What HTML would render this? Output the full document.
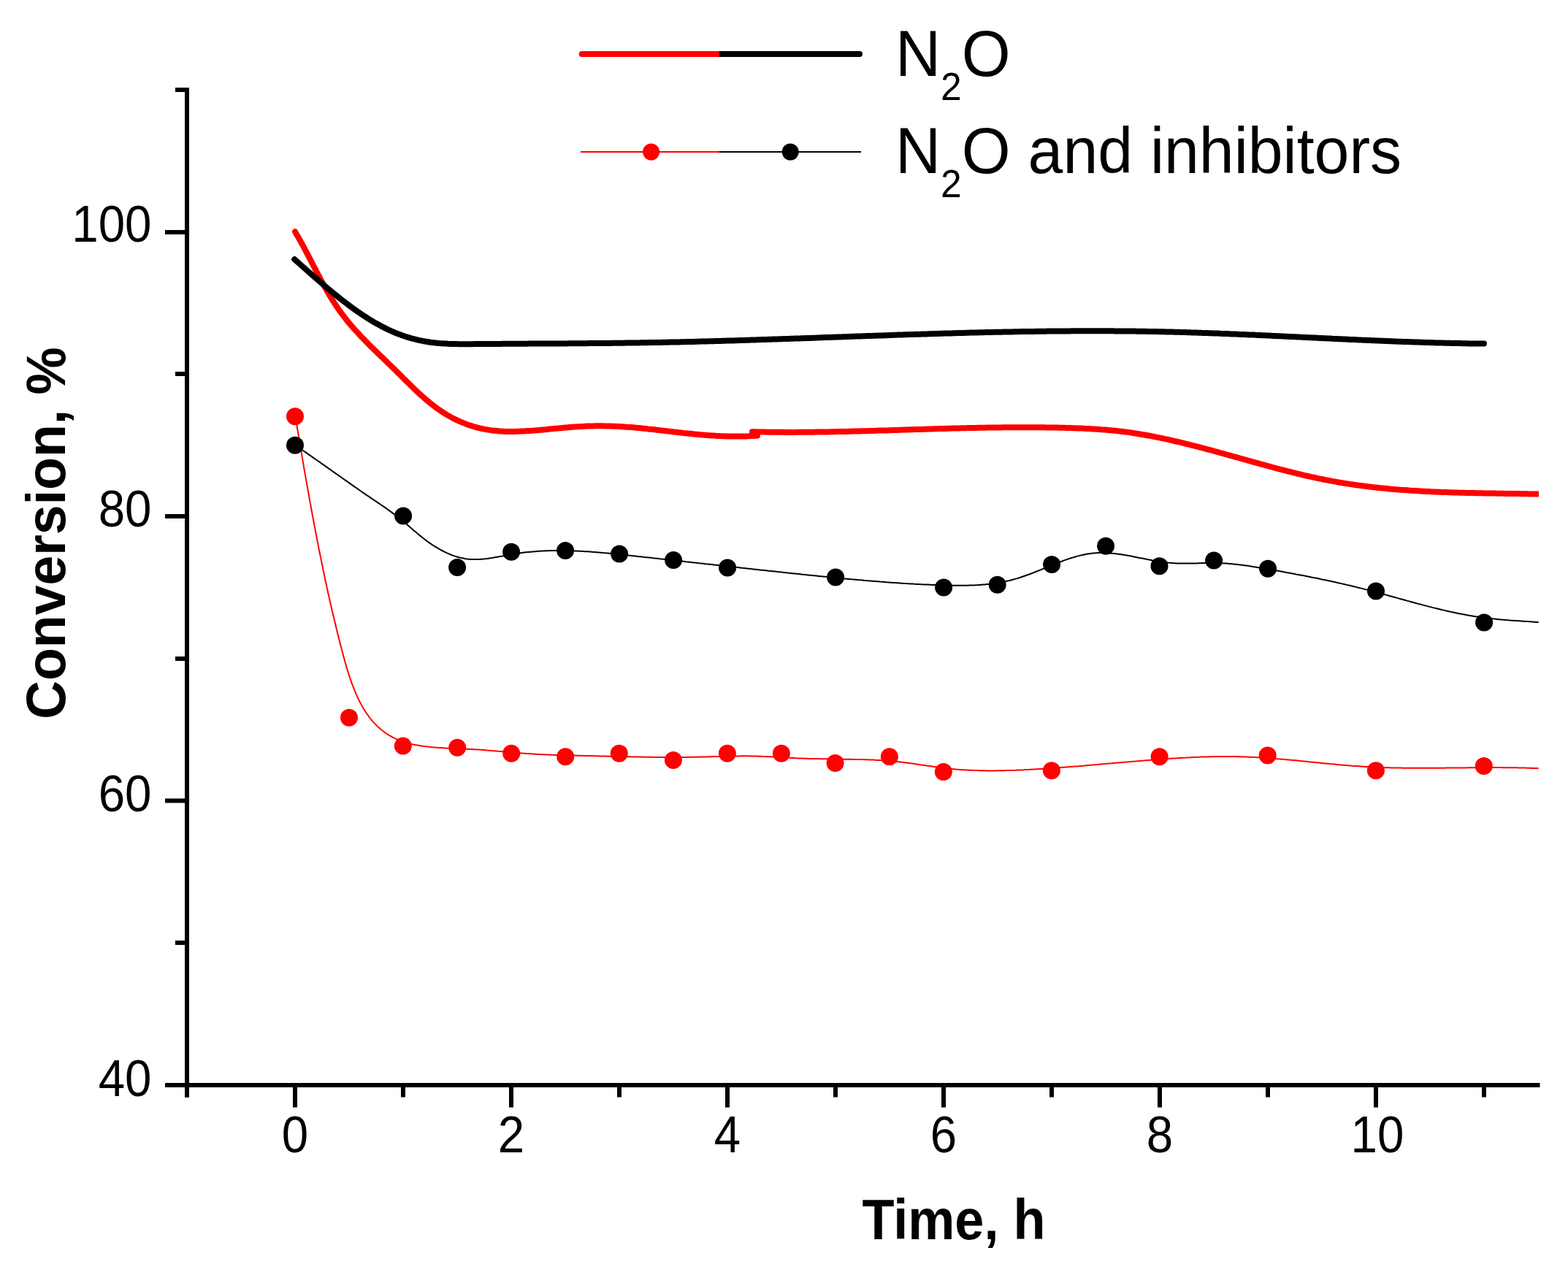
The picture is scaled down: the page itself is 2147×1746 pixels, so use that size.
<!DOCTYPE html>
<html><head><meta charset="utf-8"><title>Conversion vs Time</title>
<style>
html,body{margin:0;padding:0;background:#fff;}
body{width:2147px;height:1746px;overflow:hidden;}
svg{display:block;}
text{font-family:"Liberation Sans",Arial,sans-serif;fill:#000;}
</style></head><body>
<svg width="2147" height="1746" viewBox="0 0 2147 1746">
<defs><clipPath id="clipR"><rect x="0" y="0" width="2107" height="1746"/></clipPath></defs>
<rect width="2147" height="1746" fill="#fff"/>
<!-- axes -->
<g stroke="#000" stroke-width="6" fill="none" stroke-linecap="butt">
<path d="M256 120V1502.8"/>
<path d="M226 1486H2108.5"/>
<path d="M226 1486H256M226 1096.5H256M226 707H256M226 318H256M240 1291H256M240 902H256M240 512H256M240 123H256"/>
<path d="M404 1486V1516.6M700 1486V1516.6M996 1486V1516.6M1292 1486V1516.6M1588 1486V1516.6M1884 1486V1516.6M256 1486V1502.6M552 1486V1502.6M848 1486V1502.6M1144 1486V1502.6M1440 1486V1502.6M1736 1486V1502.6M2032 1486V1502.6"/>
</g>
<!-- y labels -->
<g font-size="65.5" text-anchor="end">
<text transform="translate(207.5 331) scale(1 1.065)">100</text>
<text transform="translate(207.5 721) scale(1 1.065)">80</text>
<text transform="translate(207.5 1111) scale(1 1.065)">60</text>
<text transform="translate(207.5 1500.5) scale(1 1.065)">40</text>
</g>
<!-- x labels -->
<g font-size="65.5" text-anchor="middle">
<text transform="translate(404 1577.5) scale(1 1.065)">0</text>
<text transform="translate(700 1577.5) scale(1 1.065)">2</text>
<text transform="translate(996 1577.5) scale(1 1.065)">4</text>
<text transform="translate(1292 1577.5) scale(1 1.065)">6</text>
<text transform="translate(1588 1577.5) scale(1 1.065)">8</text>
<text transform="translate(1886 1577.5) scale(1 1.065)">10</text>
</g>
<!-- axis titles -->
<text transform="translate(1180.5 1697) scale(1 1.068)" font-size="72.1" font-weight="bold">Time, h</text>
<text transform="translate(89 985) rotate(-90) scale(1 1.04)" font-size="73.4" font-weight="bold">Conversion, %</text>
<!-- legend -->
<path d="M796.7 74H985" stroke="#f00" stroke-width="8" stroke-linecap="round"/>
<path d="M985 74H1177" stroke="#000" stroke-width="8" stroke-linecap="butt"/>
<circle cx="1177" cy="74" r="4" fill="#000"/>
<path d="M795 208H985" stroke="#f00" stroke-width="2"/>
<path d="M985 208H1179" stroke="#000" stroke-width="2"/>
<circle cx="891.6" cy="208" r="11.5" fill="#f00"/>
<circle cx="1082.2" cy="208" r="11.5" fill="#000"/>
<text transform="translate(1226 104) scale(1 1.045)" font-size="86">N<tspan font-size="51.6" dy="31.4">2</tspan><tspan dy="-31.4">O</tspan></text>
<text transform="translate(1226 237.2) scale(1 1.045)" font-size="86">N<tspan font-size="51.6" dy="31.4">2</tspan><tspan dy="-31.4">O and inhibitors</tspan></text>
<!-- curves -->
<g id="curves" fill="none" stroke-linejoin="round">
<path d="M404.3 570.0 L404.8 573.0 L405.3 575.9 L405.8 578.9 L406.3 581.9 L406.8 584.8 L407.3 587.8 L407.8 590.8 L408.3 593.7 L408.8 596.7 L409.3 599.6 L409.8 602.6 L410.3 605.6 L410.8 608.5 L411.3 611.5 L411.8 614.5 L412.3 617.4 L412.8 620.4 L413.3 623.3 L413.8 626.3 L414.3 629.3 L414.8 632.2 L415.3 635.2 L415.8 638.1 L416.3 641.1 L416.8 644.1 L417.4 647.0 L417.9 650.0 L418.4 652.9 L418.9 655.9 L419.4 658.9 L420.0 661.8 L420.5 664.8 L421.0 667.7 L421.5 670.7 L422.1 673.6 L422.6 676.6 L423.1 679.6 L423.6 682.5 L424.2 685.5 L424.7 688.4 L425.3 691.4 L425.8 694.3 L426.3 697.3 L426.9 700.2 L427.4 703.2 L428.0 706.2 L428.5 709.1 L429.1 712.1 L429.6 715.0 L430.2 718.0 L430.7 720.9 L431.3 723.9 L431.9 726.8 L432.4 729.8 L433.0 732.7 L433.6 735.7 L434.1 738.6 L434.7 741.6 L435.3 744.5 L435.9 747.5 L436.4 750.4 L437.0 753.4 L437.6 756.3 L438.2 759.3 L438.8 762.2 L439.4 765.1 L440.0 768.1 L440.6 771.0 L441.2 774.0 L441.8 776.9 L442.4 779.9 L443.0 782.8 L443.6 785.7 L444.2 788.7 L444.9 791.6 L445.5 794.6 L446.1 797.5 L446.8 800.4 L447.4 803.4 L448.0 806.3 L448.7 809.2 L449.3 812.2 L450.0 815.1 L450.6 818.0 L451.3 821.0 L451.9 823.9 L452.6 826.8 L453.3 829.8 L453.9 832.7 L454.6 835.6 L455.3 838.5 L456.0 841.5 L456.7 844.4 L457.4 847.3 L458.1 850.2 L458.8 853.1 L459.5 856.1 L460.2 859.0 L460.9 861.9 L461.6 864.8 L462.3 867.7 L463.1 870.6 L463.8 873.6 L464.5 876.5 L465.3 879.4 L466.0 882.3 L466.8 885.2 L467.5 888.1 L468.3 891.0 L469.1 893.9 L469.8 896.8 L470.6 899.7 L471.4 902.6 L472.2 905.5 L473.0 908.4 L473.9 911.3 L474.7 914.2 L475.6 917.1 L476.5 919.9 L477.4 922.8 L478.3 925.6 L479.2 928.5 L480.2 931.3 L481.2 934.2 L482.2 937.0 L483.3 939.8 L484.4 942.6 L485.5 945.4 L486.6 948.2 L487.8 950.9 L489.0 953.7 L490.3 956.4 L491.6 959.1 L493.0 961.8 L494.4 964.4 L495.8 967.1 L497.3 969.7 L498.9 972.2 L500.5 974.8 L502.2 977.3 L503.9 979.7 L505.7 982.1 L507.6 984.5 L509.5 986.8 L511.5 989.1 L513.5 991.3 L515.6 993.4 L517.8 995.5 L520.0 997.5 L522.3 999.4 L524.7 1001.3 L527.1 1003.1 L529.5 1004.8 L532.1 1006.4 L534.7 1008.0 L537.3 1009.4 L540.0 1010.8 L542.7 1012.1 L545.4 1013.3 L548.2 1014.4 L551.0 1015.4 L553.9 1016.3 L556.8 1017.2 L559.7 1018.0 L562.6 1018.7 L565.5 1019.4 L568.5 1020.0 L571.4 1020.5 L574.4 1021.0 L577.3 1021.5 L580.3 1021.9 L583.3 1022.3 L586.3 1022.6 L589.3 1022.9 L592.3 1023.2 L595.3 1023.5 L598.2 1023.7 L601.2 1023.9 L604.2 1024.1 L607.2 1024.3 L610.2 1024.5 L613.2 1024.7 L616.2 1024.8 L619.2 1024.9 L622.2 1025.1 L625.2 1025.2 L628.2 1025.3 L631.2 1025.5 L634.2 1025.6 L637.2 1025.7 L640.2 1025.8 L643.2 1026.0 L646.2 1026.1 L649.2 1026.3 L652.2 1026.5 L655.2 1026.6 L658.2 1026.8 L661.2 1027.0 L664.2 1027.2 L667.2 1027.5 L670.2 1027.7 L673.2 1027.9 L676.2 1028.2 L679.2 1028.4 L682.2 1028.7 L685.2 1028.9 L688.2 1029.2 L691.2 1029.5 L694.2 1029.7 L697.2 1030.0 L700.2 1030.2 L703.2 1030.5 L706.1 1030.8 L709.1 1031.0 L712.1 1031.2 L715.1 1031.5 L718.1 1031.7 L721.1 1031.9 L724.1 1032.1 L727.1 1032.3 L730.1 1032.5 L733.1 1032.7 L736.1 1032.9 L739.1 1033.0 L742.1 1033.2 L745.1 1033.3 L748.1 1033.4 L751.1 1033.6 L754.1 1033.7 L757.1 1033.8 L760.1 1033.9 L763.1 1034.0 L766.1 1034.1 L769.1 1034.2 L772.1 1034.2 L775.1 1034.3 L778.1 1034.4 L781.1 1034.5 L784.1 1034.5 L787.1 1034.6 L790.1 1034.7 L793.2 1034.7 L796.2 1034.8 L799.2 1034.9 L802.2 1034.9 L805.2 1035.0 L808.2 1035.1 L811.2 1035.1 L814.2 1035.2 L817.2 1035.3 L820.2 1035.4 L823.2 1035.4 L826.2 1035.5 L829.2 1035.6 L832.2 1035.7 L835.2 1035.7 L838.2 1035.8 L841.2 1035.9 L844.2 1035.9 L847.2 1036.0 L850.2 1036.1 L853.2 1036.1 L856.2 1036.2 L859.2 1036.3 L862.2 1036.3 L865.2 1036.4 L868.2 1036.5 L871.2 1036.5 L874.2 1036.6 L877.2 1036.6 L880.2 1036.7 L883.2 1036.7 L886.3 1036.8 L889.3 1036.8 L892.3 1036.8 L895.3 1036.9 L898.3 1036.9 L901.3 1036.9 L904.3 1036.9 L907.3 1037.0 L910.3 1037.0 L913.3 1037.0 L916.3 1037.0 L919.3 1037.0 L922.3 1037.0 L925.3 1037.0 L928.3 1037.0 L931.3 1037.0 L934.3 1036.9 L937.3 1036.9 L940.3 1036.9 L943.3 1036.9 L946.3 1036.8 L949.3 1036.8 L952.3 1036.7 L955.3 1036.7 L958.3 1036.6 L961.3 1036.5 L964.4 1036.5 L967.4 1036.4 L970.4 1036.3 L973.4 1036.2 L976.4 1036.1 L979.4 1036.0 L982.4 1036.0 L985.4 1035.9 L988.4 1035.8 L991.4 1035.7 L994.4 1035.7 L997.4 1035.6 L1000.4 1035.5 L1003.4 1035.5 L1006.4 1035.4 L1009.4 1035.4 L1012.4 1035.4 L1015.4 1035.3 L1018.4 1035.3 L1021.4 1035.3 L1024.4 1035.3 L1027.4 1035.4 L1030.4 1035.4 L1033.4 1035.5 L1036.4 1035.6 L1039.4 1035.7 L1042.4 1035.8 L1045.4 1035.9 L1048.4 1036.0 L1051.4 1036.2 L1054.4 1036.3 L1057.4 1036.5 L1060.4 1036.7 L1063.4 1036.8 L1066.4 1037.0 L1069.4 1037.2 L1072.4 1037.3 L1075.4 1037.5 L1078.4 1037.7 L1081.4 1037.8 L1084.4 1038.0 L1087.4 1038.1 L1090.4 1038.3 L1093.4 1038.4 L1096.4 1038.5 L1099.4 1038.6 L1102.4 1038.7 L1105.4 1038.8 L1108.4 1038.9 L1111.4 1039.0 L1114.5 1039.0 L1117.5 1039.1 L1120.5 1039.1 L1123.5 1039.2 L1126.5 1039.3 L1129.5 1039.3 L1132.5 1039.3 L1135.5 1039.4 L1138.5 1039.4 L1141.5 1039.5 L1144.5 1039.5 L1147.5 1039.6 L1150.5 1039.6 L1153.5 1039.6 L1156.5 1039.7 L1159.5 1039.7 L1162.5 1039.8 L1165.5 1039.8 L1168.5 1039.9 L1171.5 1039.9 L1174.5 1040.0 L1177.5 1040.1 L1180.5 1040.1 L1183.5 1040.2 L1186.5 1040.3 L1189.5 1040.4 L1192.5 1040.5 L1195.5 1040.6 L1198.5 1040.8 L1201.5 1040.9 L1204.5 1041.1 L1207.5 1041.2 L1210.5 1041.4 L1213.5 1041.6 L1216.5 1041.9 L1219.5 1042.1 L1222.5 1042.4 L1225.5 1042.7 L1228.5 1043.0 L1231.5 1043.3 L1234.5 1043.7 L1237.4 1044.0 L1240.4 1044.4 L1243.4 1044.8 L1246.4 1045.2 L1249.4 1045.6 L1252.3 1046.1 L1255.3 1046.5 L1258.3 1046.9 L1261.2 1047.4 L1264.2 1047.8 L1267.2 1048.2 L1270.2 1048.7 L1273.1 1049.1 L1276.1 1049.5 L1279.1 1050.0 L1282.1 1050.4 L1285.0 1050.8 L1288.0 1051.2 L1291.0 1051.5 L1294.0 1051.9 L1297.0 1052.2 L1299.9 1052.6 L1302.9 1052.9 L1305.9 1053.2 L1308.9 1053.5 L1311.9 1053.7 L1314.9 1053.9 L1317.9 1054.2 L1320.9 1054.3 L1323.9 1054.5 L1326.9 1054.7 L1329.9 1054.8 L1332.9 1054.9 L1335.9 1055.0 L1338.9 1055.1 L1341.9 1055.2 L1344.9 1055.3 L1347.9 1055.3 L1350.9 1055.4 L1353.9 1055.4 L1356.9 1055.4 L1359.9 1055.4 L1362.9 1055.4 L1365.9 1055.3 L1368.9 1055.3 L1371.9 1055.3 L1374.9 1055.2 L1377.9 1055.1 L1381.0 1055.1 L1384.0 1055.0 L1387.0 1054.9 L1390.0 1054.8 L1393.0 1054.6 L1396.0 1054.5 L1399.0 1054.4 L1402.0 1054.3 L1405.0 1054.1 L1408.0 1054.0 L1411.0 1053.8 L1414.0 1053.6 L1417.0 1053.5 L1420.0 1053.3 L1423.0 1053.1 L1426.0 1052.9 L1429.0 1052.7 L1432.0 1052.6 L1435.0 1052.4 L1437.9 1052.1 L1440.9 1051.9 L1443.9 1051.7 L1446.9 1051.5 L1449.9 1051.3 L1452.9 1051.1 L1455.9 1050.8 L1458.9 1050.6 L1461.9 1050.4 L1464.9 1050.1 L1467.9 1049.9 L1470.9 1049.6 L1473.9 1049.4 L1476.9 1049.2 L1479.9 1048.9 L1482.9 1048.7 L1485.9 1048.4 L1488.9 1048.1 L1491.9 1047.9 L1494.8 1047.6 L1497.8 1047.4 L1500.8 1047.1 L1503.8 1046.9 L1506.8 1046.6 L1509.8 1046.3 L1512.8 1046.1 L1515.8 1045.8 L1518.8 1045.5 L1521.8 1045.3 L1524.8 1045.0 L1527.8 1044.8 L1530.8 1044.5 L1533.7 1044.2 L1536.7 1044.0 L1539.7 1043.7 L1542.7 1043.5 L1545.7 1043.2 L1548.7 1043.0 L1551.7 1042.7 L1554.7 1042.5 L1557.7 1042.2 L1560.7 1042.0 L1563.7 1041.7 L1566.7 1041.5 L1569.7 1041.2 L1572.7 1041.0 L1575.7 1040.8 L1578.7 1040.5 L1581.7 1040.3 L1584.6 1040.1 L1587.6 1039.9 L1590.6 1039.6 L1593.6 1039.4 L1596.6 1039.2 L1599.6 1039.0 L1602.6 1038.8 L1605.6 1038.6 L1608.6 1038.4 L1611.6 1038.3 L1614.6 1038.1 L1617.6 1037.9 L1620.6 1037.7 L1623.6 1037.6 L1626.6 1037.4 L1629.6 1037.3 L1632.6 1037.1 L1635.6 1037.0 L1638.6 1036.9 L1641.6 1036.8 L1644.6 1036.6 L1647.6 1036.5 L1650.6 1036.4 L1653.6 1036.4 L1656.6 1036.3 L1659.6 1036.2 L1662.6 1036.2 L1665.6 1036.1 L1668.6 1036.1 L1671.7 1036.0 L1674.7 1036.0 L1677.7 1036.0 L1680.7 1036.0 L1683.7 1036.0 L1686.7 1036.1 L1689.7 1036.1 L1692.7 1036.1 L1695.7 1036.2 L1698.7 1036.3 L1701.7 1036.4 L1704.7 1036.5 L1707.7 1036.6 L1710.7 1036.7 L1713.7 1036.8 L1716.7 1037.0 L1719.7 1037.1 L1722.7 1037.3 L1725.7 1037.5 L1728.7 1037.7 L1731.7 1037.9 L1734.7 1038.1 L1737.7 1038.3 L1740.7 1038.5 L1743.7 1038.7 L1746.7 1038.9 L1749.7 1039.2 L1752.7 1039.4 L1755.7 1039.7 L1758.6 1039.9 L1761.6 1040.2 L1764.6 1040.5 L1767.6 1040.8 L1770.6 1041.0 L1773.6 1041.3 L1776.6 1041.6 L1779.6 1041.9 L1782.6 1042.2 L1785.6 1042.5 L1788.5 1042.8 L1791.5 1043.1 L1794.5 1043.4 L1797.5 1043.7 L1800.5 1044.0 L1803.5 1044.3 L1806.5 1044.6 L1809.5 1044.9 L1812.5 1045.2 L1815.4 1045.5 L1818.4 1045.8 L1821.4 1046.1 L1824.4 1046.3 L1827.4 1046.6 L1830.4 1046.9 L1833.4 1047.2 L1836.4 1047.4 L1839.4 1047.7 L1842.4 1048.0 L1845.4 1048.2 L1848.4 1048.4 L1851.4 1048.7 L1854.3 1048.9 L1857.3 1049.1 L1860.3 1049.3 L1863.3 1049.5 L1866.3 1049.7 L1869.3 1049.9 L1872.3 1050.1 L1875.3 1050.3 L1878.3 1050.4 L1881.3 1050.6 L1884.3 1050.7 L1887.3 1050.8 L1890.3 1050.9 L1893.3 1051.1 L1896.3 1051.2 L1899.3 1051.2 L1902.3 1051.3 L1905.3 1051.4 L1908.4 1051.5 L1911.4 1051.5 L1914.4 1051.6 L1917.4 1051.6 L1920.4 1051.7 L1923.4 1051.7 L1926.4 1051.7 L1929.4 1051.8 L1932.4 1051.8 L1935.4 1051.8 L1938.4 1051.8 L1941.4 1051.8 L1944.4 1051.8 L1947.4 1051.8 L1950.4 1051.8 L1953.4 1051.8 L1956.4 1051.8 L1959.4 1051.8 L1962.4 1051.8 L1965.4 1051.8 L1968.4 1051.7 L1971.4 1051.7 L1974.4 1051.7 L1977.4 1051.7 L1980.4 1051.6 L1983.4 1051.6 L1986.5 1051.6 L1989.5 1051.5 L1992.5 1051.5 L1995.5 1051.5 L1998.5 1051.4 L2001.5 1051.4 L2004.5 1051.4 L2007.5 1051.4 L2010.5 1051.3 L2013.5 1051.3 L2016.5 1051.3 L2019.5 1051.2 L2022.5 1051.2 L2025.5 1051.2 L2028.5 1051.2 L2031.5 1051.2 L2034.5 1051.1 L2037.5 1051.1 L2040.5 1051.1 L2043.5 1051.1 L2046.5 1051.1 L2049.5 1051.1 L2052.5 1051.1 L2055.5 1051.1 L2058.5 1051.2 L2061.5 1051.2 L2064.6 1051.2 L2067.6 1051.2 L2070.6 1051.3 L2073.6 1051.3 L2076.6 1051.3 L2079.6 1051.4 L2082.6 1051.5 L2085.6 1051.5 L2088.6 1051.6 L2091.6 1051.7 L2094.6 1051.8 L2097.6 1051.9 L2100.6 1052.0 L2103.6 1052.1 L2106.6 1052.2" stroke="#f00" stroke-width="2"/>
<path d="M404.0 609.6 L406.5 611.2 L409.0 612.9 L411.5 614.6 L413.9 616.3 L416.4 618.0 L418.9 619.7 L421.3 621.4 L423.8 623.1 L426.3 624.8 L428.7 626.6 L431.2 628.3 L433.7 630.0 L436.1 631.7 L438.6 633.4 L441.0 635.2 L443.5 636.9 L445.9 638.6 L448.4 640.4 L450.8 642.1 L453.3 643.8 L455.7 645.6 L458.2 647.3 L460.6 649.0 L463.1 650.8 L465.5 652.5 L468.0 654.2 L470.4 656.0 L472.9 657.7 L475.4 659.4 L477.8 661.1 L480.3 662.9 L482.7 664.6 L485.2 666.3 L487.6 668.0 L490.1 669.7 L492.6 671.5 L495.0 673.2 L497.5 674.9 L500.0 676.6 L502.5 678.3 L505.0 679.9 L507.4 681.6 L509.9 683.3 L512.4 685.0 L514.9 686.7 L517.4 688.3 L519.9 690.0 L522.3 691.7 L524.8 693.4 L527.3 695.1 L529.7 696.9 L532.2 698.6 L534.6 700.4 L537.0 702.1 L539.5 703.9 L541.8 705.7 L544.2 707.6 L546.6 709.4 L548.9 711.3 L551.3 713.2 L553.6 715.1 L555.9 717.1 L558.1 719.0 L560.4 721.0 L562.7 722.9 L564.9 724.9 L567.2 726.9 L569.5 728.8 L571.8 730.8 L574.1 732.7 L576.4 734.6 L578.7 736.5 L581.1 738.3 L583.5 740.1 L585.9 741.9 L588.4 743.6 L590.9 745.3 L593.4 747.0 L595.9 748.6 L598.5 750.2 L601.1 751.7 L603.7 753.1 L606.3 754.5 L609.0 755.9 L611.7 757.2 L614.5 758.4 L617.2 759.5 L620.0 760.6 L622.9 761.6 L625.7 762.5 L628.6 763.3 L631.5 764.0 L634.5 764.6 L637.4 765.2 L640.4 765.6 L643.4 765.9 L646.4 766.1 L649.4 766.1 L652.4 766.1 L655.4 766.0 L658.4 765.9 L661.4 765.6 L664.4 765.3 L667.3 764.9 L670.3 764.5 L673.3 764.1 L676.2 763.6 L679.2 763.0 L682.2 762.5 L685.1 761.9 L688.1 761.4 L691.0 760.8 L694.0 760.3 L696.9 759.7 L699.9 759.2 L702.8 758.7 L705.8 758.2 L708.8 757.8 L711.7 757.4 L714.7 757.0 L717.7 756.6 L720.7 756.3 L723.7 756.0 L726.6 755.7 L729.6 755.4 L732.6 755.2 L735.6 755.0 L738.6 754.8 L741.6 754.6 L744.6 754.4 L747.6 754.3 L750.6 754.2 L753.6 754.1 L756.6 754.1 L759.6 754.0 L762.6 754.0 L765.6 754.0 L768.6 754.0 L771.6 754.0 L774.6 754.1 L777.6 754.1 L780.6 754.2 L783.6 754.3 L786.6 754.4 L789.6 754.5 L792.6 754.7 L795.6 754.8 L798.6 755.0 L801.6 755.2 L804.6 755.3 L807.6 755.5 L810.6 755.8 L813.6 756.0 L816.6 756.2 L819.6 756.4 L822.6 756.7 L825.6 757.0 L828.5 757.2 L831.5 757.5 L834.5 757.8 L837.5 758.1 L840.5 758.4 L843.5 758.7 L846.5 759.0 L849.5 759.3 L852.4 759.6 L855.4 759.9 L858.4 760.2 L861.4 760.6 L864.4 760.9 L867.4 761.2 L870.3 761.5 L873.3 761.9 L876.3 762.2 L879.3 762.5 L882.3 762.9 L885.3 763.2 L888.2 763.5 L891.2 763.8 L894.2 764.2 L897.2 764.5 L900.2 764.8 L903.2 765.2 L906.1 765.5 L909.1 765.8 L912.1 766.2 L915.1 766.5 L918.1 766.8 L921.1 767.2 L924.0 767.5 L927.0 767.8 L930.0 768.2 L933.0 768.5 L936.0 768.8 L939.0 769.2 L941.9 769.5 L944.9 769.8 L947.9 770.2 L950.9 770.5 L953.9 770.8 L956.9 771.2 L959.8 771.5 L962.8 771.8 L965.8 772.2 L968.8 772.5 L971.8 772.8 L974.8 773.1 L977.7 773.5 L980.7 773.8 L983.7 774.1 L986.7 774.5 L989.7 774.8 L992.7 775.1 L995.6 775.5 L998.6 775.8 L1001.6 776.1 L1004.6 776.5 L1007.6 776.8 L1010.6 777.1 L1013.5 777.4 L1016.5 777.8 L1019.5 778.1 L1022.5 778.4 L1025.5 778.7 L1028.5 779.1 L1031.4 779.4 L1034.4 779.7 L1037.4 780.1 L1040.4 780.4 L1043.4 780.7 L1046.4 781.0 L1049.4 781.3 L1052.3 781.7 L1055.3 782.0 L1058.3 782.3 L1061.3 782.6 L1064.3 783.0 L1067.3 783.3 L1070.2 783.6 L1073.2 783.9 L1076.2 784.2 L1079.2 784.6 L1082.2 784.9 L1085.2 785.2 L1088.2 785.5 L1091.1 785.8 L1094.1 786.1 L1097.1 786.4 L1100.1 786.8 L1103.1 787.1 L1106.1 787.4 L1109.1 787.7 L1112.0 788.0 L1115.0 788.3 L1118.0 788.6 L1121.0 788.9 L1124.0 789.2 L1127.0 789.5 L1130.0 789.8 L1132.9 790.1 L1135.9 790.4 L1138.9 790.7 L1141.9 791.0 L1144.9 791.3 L1147.9 791.6 L1150.9 791.9 L1153.9 792.2 L1156.8 792.4 L1159.8 792.7 L1162.8 793.0 L1165.8 793.3 L1168.8 793.5 L1171.8 793.8 L1174.8 794.1 L1177.8 794.3 L1180.8 794.6 L1183.7 794.9 L1186.7 795.1 L1189.7 795.4 L1192.7 795.6 L1195.7 795.9 L1198.7 796.1 L1201.7 796.3 L1204.7 796.6 L1207.7 796.8 L1210.7 797.0 L1213.7 797.3 L1216.7 797.5 L1219.7 797.7 L1222.7 797.9 L1225.6 798.1 L1228.6 798.3 L1231.6 798.5 L1234.6 798.7 L1237.6 798.9 L1240.6 799.1 L1243.6 799.2 L1246.6 799.4 L1249.6 799.6 L1252.6 799.8 L1255.6 799.9 L1258.6 800.1 L1261.6 800.2 L1264.6 800.4 L1267.6 800.5 L1270.6 800.6 L1273.6 800.7 L1276.6 800.9 L1279.6 801.0 L1282.6 801.1 L1285.6 801.2 L1288.6 801.3 L1291.6 801.4 L1294.6 801.5 L1297.6 801.5 L1300.6 801.6 L1303.6 801.7 L1306.6 801.7 L1309.6 801.7 L1312.6 801.8 L1315.6 801.8 L1318.6 801.8 L1321.6 801.7 L1324.6 801.7 L1327.6 801.6 L1330.6 801.5 L1333.6 801.4 L1336.6 801.2 L1339.6 801.1 L1342.6 800.9 L1345.6 800.6 L1348.6 800.4 L1351.6 800.1 L1354.6 799.8 L1357.5 799.4 L1360.5 799.0 L1363.5 798.6 L1366.5 798.1 L1369.4 797.6 L1372.4 797.1 L1375.3 796.5 L1378.2 795.8 L1381.2 795.2 L1384.1 794.5 L1387.0 793.7 L1389.9 792.9 L1392.8 792.1 L1395.6 791.2 L1398.5 790.3 L1401.3 789.3 L1404.2 788.3 L1407.0 787.3 L1409.8 786.3 L1412.6 785.2 L1415.4 784.1 L1418.2 783.0 L1421.0 781.9 L1423.8 780.8 L1426.5 779.6 L1429.3 778.5 L1432.1 777.3 L1434.9 776.2 L1437.7 775.1 L1440.4 773.9 L1443.2 772.8 L1446.0 771.7 L1448.8 770.6 L1451.6 769.5 L1454.4 768.5 L1457.2 767.4 L1460.1 766.4 L1462.9 765.4 L1465.7 764.5 L1468.6 763.6 L1471.5 762.7 L1474.4 761.9 L1477.3 761.1 L1480.2 760.4 L1483.1 759.8 L1486.1 759.2 L1489.0 758.6 L1492.0 758.2 L1495.0 757.8 L1497.9 757.5 L1500.9 757.3 L1503.9 757.1 L1506.9 757.1 L1509.9 757.1 L1512.9 757.1 L1515.9 757.3 L1518.9 757.5 L1521.9 757.7 L1524.9 758.0 L1527.9 758.3 L1530.9 758.7 L1533.8 759.1 L1536.8 759.6 L1539.8 760.1 L1542.7 760.6 L1545.7 761.1 L1548.6 761.6 L1551.6 762.2 L1554.5 762.8 L1557.5 763.4 L1560.4 764.0 L1563.4 764.5 L1566.3 765.1 L1569.3 765.7 L1572.2 766.3 L1575.1 766.8 L1578.1 767.4 L1581.1 767.9 L1584.0 768.4 L1587.0 768.9 L1589.9 769.4 L1592.9 769.8 L1595.9 770.1 L1598.9 770.5 L1601.9 770.8 L1604.9 771.0 L1607.9 771.2 L1610.9 771.4 L1613.9 771.5 L1616.9 771.5 L1619.9 771.6 L1622.9 771.6 L1625.9 771.6 L1628.9 771.5 L1631.9 771.5 L1634.9 771.4 L1637.9 771.4 L1640.9 771.3 L1643.9 771.2 L1646.9 771.1 L1649.9 771.1 L1652.9 771.0 L1655.9 771.0 L1658.9 770.9 L1661.9 770.9 L1664.9 771.0 L1667.9 771.0 L1670.9 771.1 L1673.9 771.3 L1676.9 771.4 L1679.9 771.6 L1682.9 771.9 L1685.8 772.1 L1688.8 772.4 L1691.8 772.7 L1694.8 773.1 L1697.8 773.4 L1700.8 773.8 L1703.7 774.2 L1706.7 774.6 L1709.7 775.1 L1712.6 775.5 L1715.6 776.0 L1718.6 776.4 L1721.5 776.9 L1724.5 777.4 L1727.5 777.9 L1730.4 778.4 L1733.4 778.9 L1736.3 779.4 L1739.3 780.0 L1742.2 780.5 L1745.2 781.0 L1748.2 781.5 L1751.1 782.1 L1754.1 782.6 L1757.0 783.1 L1760.0 783.7 L1762.9 784.2 L1765.9 784.7 L1768.8 785.3 L1771.8 785.8 L1774.7 786.4 L1777.7 786.9 L1780.6 787.5 L1783.6 788.1 L1786.5 788.6 L1789.5 789.2 L1792.4 789.8 L1795.4 790.4 L1798.3 791.0 L1801.3 791.5 L1804.2 792.1 L1807.1 792.7 L1810.1 793.4 L1813.0 794.0 L1815.9 794.6 L1818.9 795.2 L1821.8 795.8 L1824.8 796.5 L1827.7 797.1 L1830.6 797.8 L1833.5 798.4 L1836.5 799.1 L1839.4 799.8 L1842.3 800.4 L1845.2 801.1 L1848.2 801.8 L1851.1 802.5 L1854.0 803.2 L1856.9 803.9 L1859.8 804.7 L1862.7 805.4 L1865.7 806.1 L1868.6 806.9 L1871.5 807.6 L1874.4 808.4 L1877.3 809.1 L1880.2 809.9 L1883.1 810.7 L1886.0 811.5 L1888.9 812.2 L1891.8 813.0 L1894.7 813.8 L1897.6 814.6 L1900.5 815.4 L1903.3 816.2 L1906.2 817.0 L1909.1 817.8 L1912.0 818.6 L1914.9 819.4 L1917.8 820.2 L1920.7 821.0 L1923.6 821.8 L1926.5 822.6 L1929.4 823.4 L1932.3 824.2 L1935.2 825.0 L1938.1 825.8 L1941.0 826.6 L1943.9 827.3 L1946.8 828.1 L1949.7 828.9 L1952.6 829.6 L1955.5 830.4 L1958.4 831.1 L1961.3 831.9 L1964.2 832.6 L1967.1 833.3 L1970.0 834.0 L1973.0 834.7 L1975.9 835.4 L1978.8 836.1 L1981.7 836.8 L1984.7 837.4 L1987.6 838.1 L1990.5 838.7 L1993.5 839.3 L1996.4 839.9 L1999.4 840.5 L2002.3 841.1 L2005.2 841.6 L2008.2 842.2 L2011.2 842.7 L2014.1 843.2 L2017.1 843.7 L2020.0 844.2 L2023.0 844.6 L2026.0 845.1 L2029.0 845.5 L2031.9 845.9 L2034.9 846.2 L2037.9 846.6 L2040.9 846.9 L2043.9 847.3 L2046.8 847.6 L2049.8 847.9 L2052.8 848.2 L2055.8 848.5 L2058.8 848.7 L2061.8 849.0 L2064.8 849.2 L2067.8 849.5 L2070.8 849.7 L2073.8 849.9 L2076.7 850.1 L2079.7 850.3 L2082.7 850.5 L2085.7 850.7 L2088.7 850.9 L2091.7 851.1 L2094.7 851.3 L2097.7 851.5 L2100.7 851.7 L2103.7 851.9 L2106.7 852.1" stroke="#000" stroke-width="2"/>
<path d="M404.0 317.3 L405.5 319.9 L407.0 322.5 L408.5 325.1 L410.0 327.7 L411.5 330.3 L412.9 333.0 L414.4 335.6 L415.8 338.2 L417.2 340.9 L418.6 343.5 L420.0 346.2 L421.4 348.9 L422.8 351.5 L424.2 354.2 L425.6 356.9 L427.0 359.5 L428.3 362.2 L429.7 364.9 L431.1 367.5 L432.5 370.2 L433.9 372.8 L435.3 375.5 L436.7 378.2 L438.1 380.8 L439.5 383.5 L440.9 386.1 L442.4 388.7 L443.8 391.4 L445.3 394.0 L446.8 396.6 L448.2 399.2 L449.8 401.8 L451.3 404.4 L452.8 407.0 L454.4 409.5 L456.0 412.1 L457.6 414.6 L459.2 417.1 L460.9 419.6 L462.6 422.1 L464.3 424.6 L466.1 427.0 L467.8 429.4 L469.7 431.8 L471.5 434.2 L473.3 436.6 L475.2 438.9 L477.1 441.3 L479.0 443.6 L481.0 445.9 L483.0 448.1 L484.9 450.4 L486.9 452.6 L489.0 454.8 L491.0 457.0 L493.0 459.2 L495.1 461.4 L497.2 463.6 L499.3 465.7 L501.4 467.9 L503.5 470.0 L505.6 472.2 L507.7 474.3 L509.9 476.4 L512.0 478.5 L514.2 480.6 L516.3 482.7 L518.5 484.8 L520.6 486.9 L522.8 489.0 L525.0 491.0 L527.1 493.1 L529.3 495.2 L531.4 497.3 L533.6 499.4 L535.8 501.5 L537.9 503.6 L540.1 505.7 L542.2 507.8 L544.3 509.9 L546.5 512.0 L548.6 514.1 L550.7 516.2 L552.8 518.4 L555.0 520.5 L557.1 522.6 L559.2 524.7 L561.4 526.8 L563.5 528.9 L565.7 531.0 L567.8 533.1 L570.0 535.2 L572.2 537.2 L574.4 539.3 L576.6 541.3 L578.9 543.3 L581.1 545.3 L583.4 547.3 L585.7 549.2 L588.0 551.1 L590.3 553.0 L592.7 554.8 L595.1 556.7 L597.5 558.5 L599.9 560.2 L602.4 561.9 L604.9 563.6 L607.4 565.2 L609.9 566.8 L612.5 568.4 L615.1 569.9 L617.7 571.4 L620.4 572.8 L623.1 574.1 L625.8 575.4 L628.5 576.7 L631.3 577.9 L634.0 579.0 L636.8 580.1 L639.6 581.2 L642.5 582.2 L645.3 583.1 L648.2 584.0 L651.1 584.8 L654.0 585.6 L656.9 586.3 L659.8 587.0 L662.8 587.6 L665.7 588.1 L668.7 588.6 L671.7 589.1 L674.6 589.5 L677.6 589.8 L680.6 590.1 L683.6 590.4 L686.6 590.6 L689.6 590.7 L692.6 590.9 L695.6 590.9 L698.6 591.0 L701.6 591.0 L704.6 590.9 L707.6 590.8 L710.6 590.8 L713.6 590.6 L716.6 590.5 L719.6 590.3 L722.6 590.1 L725.6 589.9 L728.6 589.7 L731.6 589.5 L734.6 589.2 L737.6 589.0 L740.6 588.7 L743.6 588.4 L746.6 588.2 L749.6 587.9 L752.6 587.6 L755.5 587.3 L758.5 587.0 L761.5 586.7 L764.5 586.5 L767.5 586.2 L770.5 585.9 L773.5 585.6 L776.5 585.4 L779.5 585.1 L782.5 584.9 L785.5 584.6 L788.5 584.4 L791.5 584.2 L794.4 584.1 L797.4 583.9 L800.4 583.8 L803.4 583.6 L806.5 583.5 L809.5 583.5 L812.5 583.4 L815.5 583.3 L818.5 583.3 L821.5 583.3 L824.5 583.3 L827.5 583.4 L830.5 583.4 L833.5 583.5 L836.5 583.6 L839.5 583.7 L842.5 583.8 L845.5 583.9 L848.5 584.1 L851.5 584.3 L854.5 584.5 L857.5 584.7 L860.5 584.9 L863.5 585.1 L866.5 585.3 L869.5 585.6 L872.4 585.9 L875.4 586.1 L878.4 586.4 L881.4 586.7 L884.4 587.0 L887.4 587.4 L890.4 587.7 L893.4 588.0 L896.3 588.3 L899.3 588.7 L902.3 589.0 L905.3 589.4 L908.3 589.7 L911.3 590.1 L914.2 590.4 L917.2 590.8 L920.2 591.1 L923.2 591.5 L926.2 591.8 L929.2 592.2 L932.1 592.5 L935.1 592.9 L938.1 593.2 L941.1 593.5 L944.1 593.8 L947.1 594.1 L950.1 594.4 L953.1 594.7 L956.0 595.0 L959.0 595.3 L962.0 595.5 L965.0 595.8 L968.0 596.0 L971.0 596.2 L974.0 596.4 L977.0 596.6 L980.0 596.8 L983.0 596.9 L986.0 597.1 L989.0 597.2 L992.0 597.3 L995.0 597.4 L998.0 597.5 L1001.0 597.5 L1004.0 597.6 L1007.0 597.6 L1010.0 597.6 L1013.0 597.5 L1016.0 597.5 L1019.0 597.4 L1022.0 597.4 L1025.0 597.3 L1028.0 597.1 L1031.0 597.0 L1034.0 596.8 L1037.0 596.7" stroke="#f00" stroke-width="8" stroke-linecap="round"/>
<path d="M1030.0 591.3 L1033.0 591.3 L1036.0 591.4 L1039.0 591.5 L1042.0 591.5 L1045.0 591.6 L1048.0 591.6 L1051.1 591.7 L1054.1 591.7 L1057.1 591.7 L1060.1 591.8 L1063.1 591.8 L1066.1 591.8 L1069.1 591.8 L1072.1 591.8 L1075.1 591.9 L1078.1 591.9 L1081.1 591.9 L1084.1 591.9 L1087.1 591.9 L1090.2 591.9 L1093.2 591.8 L1096.2 591.8 L1099.2 591.8 L1102.2 591.8 L1105.2 591.8 L1108.2 591.7 L1111.2 591.7 L1114.2 591.7 L1117.2 591.6 L1120.2 591.6 L1123.2 591.6 L1126.2 591.5 L1129.2 591.5 L1132.3 591.4 L1135.3 591.4 L1138.3 591.3 L1141.3 591.3 L1144.3 591.2 L1147.3 591.1 L1150.3 591.1 L1153.3 591.0 L1156.3 590.9 L1159.3 590.9 L1162.3 590.8 L1165.3 590.7 L1168.3 590.6 L1171.4 590.6 L1174.4 590.5 L1177.4 590.4 L1180.4 590.3 L1183.4 590.3 L1186.4 590.2 L1189.4 590.1 L1192.4 590.0 L1195.4 589.9 L1198.4 589.8 L1201.4 589.7 L1204.4 589.6 L1207.4 589.6 L1210.5 589.5 L1213.5 589.4 L1216.5 589.3 L1219.5 589.2 L1222.5 589.1 L1225.5 589.0 L1228.5 588.9 L1231.5 588.8 L1234.5 588.7 L1237.5 588.6 L1240.5 588.5 L1243.5 588.4 L1246.5 588.3 L1249.6 588.2 L1252.6 588.1 L1255.6 588.1 L1258.6 588.0 L1261.6 587.9 L1264.6 587.8 L1267.6 587.7 L1270.6 587.6 L1273.6 587.5 L1276.6 587.4 L1279.6 587.3 L1282.6 587.2 L1285.6 587.1 L1288.6 587.1 L1291.7 587.0 L1294.7 586.9 L1297.7 586.8 L1300.7 586.7 L1303.7 586.6 L1306.7 586.6 L1309.7 586.5 L1312.7 586.4 L1315.7 586.3 L1318.7 586.3 L1321.7 586.2 L1324.7 586.1 L1327.7 586.1 L1330.8 586.0 L1333.8 585.9 L1336.8 585.9 L1339.8 585.8 L1342.8 585.8 L1345.8 585.7 L1348.8 585.7 L1351.8 585.6 L1354.8 585.6 L1357.8 585.5 L1360.8 585.5 L1363.8 585.4 L1366.8 585.4 L1369.9 585.4 L1372.9 585.3 L1375.9 585.3 L1378.9 585.3 L1381.9 585.2 L1384.9 585.2 L1387.9 585.2 L1390.9 585.2 L1393.9 585.2 L1396.9 585.2 L1399.9 585.2 L1402.9 585.2 L1405.9 585.2 L1409.0 585.2 L1412.0 585.2 L1415.0 585.2 L1418.0 585.2 L1421.0 585.2 L1424.0 585.3 L1427.0 585.3 L1430.0 585.3 L1433.0 585.4 L1436.0 585.4 L1439.0 585.5 L1442.0 585.5 L1445.0 585.6 L1448.0 585.6 L1451.1 585.7 L1454.1 585.8 L1457.1 585.8 L1460.1 585.9 L1463.1 586.0 L1466.1 586.1 L1469.1 586.2 L1472.1 586.3 L1475.1 586.4 L1478.1 586.5 L1481.1 586.6 L1484.1 586.7 L1487.1 586.9 L1490.2 587.0 L1493.2 587.2 L1496.2 587.4 L1499.2 587.5 L1502.2 587.7 L1505.2 587.9 L1508.2 588.2 L1511.2 588.4 L1514.2 588.6 L1517.2 588.9 L1520.2 589.2 L1523.2 589.5 L1526.2 589.8 L1529.3 590.1 L1532.3 590.4 L1535.3 590.8 L1538.3 591.1 L1541.3 591.5 L1544.3 591.9 L1547.3 592.3 L1550.3 592.8 L1553.3 593.2 L1556.3 593.7 L1559.3 594.2 L1562.3 594.7 L1565.3 595.2 L1568.3 595.7 L1571.4 596.3 L1574.4 596.8 L1577.4 597.4 L1580.4 598.0 L1583.4 598.6 L1586.4 599.2 L1589.4 599.8 L1592.4 600.4 L1595.4 601.1 L1598.4 601.7 L1601.4 602.4 L1604.4 603.1 L1607.4 603.8 L1610.5 604.5 L1613.5 605.2 L1616.5 605.9 L1619.5 606.6 L1622.5 607.3 L1625.5 608.1 L1628.5 608.8 L1631.5 609.6 L1634.5 610.4 L1637.5 611.1 L1640.5 611.9 L1643.5 612.7 L1646.5 613.5 L1649.6 614.3 L1652.6 615.1 L1655.6 615.9 L1658.6 616.7 L1661.6 617.5 L1664.6 618.3 L1667.6 619.2 L1670.6 620.0 L1673.6 620.8 L1676.6 621.6 L1679.6 622.5 L1682.6 623.3 L1685.6 624.2 L1688.7 625.0 L1691.7 625.8 L1694.7 626.7 L1697.7 627.5 L1700.7 628.4 L1703.7 629.2 L1706.7 630.0 L1709.7 630.9 L1712.7 631.7 L1715.7 632.6 L1718.7 633.4 L1721.7 634.2 L1724.7 635.1 L1727.7 635.9 L1730.8 636.7 L1733.8 637.5 L1736.8 638.3 L1739.8 639.2 L1742.8 640.0 L1745.8 640.8 L1748.8 641.6 L1751.8 642.4 L1754.8 643.1 L1757.8 643.9 L1760.8 644.7 L1763.8 645.5 L1766.8 646.2 L1769.9 647.0 L1772.9 647.7 L1775.9 648.5 L1778.9 649.2 L1781.9 649.9 L1784.9 650.6 L1787.9 651.3 L1790.9 652.0 L1793.9 652.7 L1796.9 653.4 L1799.9 654.0 L1802.9 654.7 L1805.9 655.3 L1809.0 655.9 L1812.0 656.5 L1815.0 657.1 L1818.0 657.7 L1821.0 658.3 L1824.0 658.9 L1827.0 659.4 L1830.0 659.9 L1833.0 660.5 L1836.0 661.0 L1839.0 661.5 L1842.0 662.0 L1845.0 662.4 L1848.1 662.9 L1851.1 663.3 L1854.1 663.8 L1857.1 664.2 L1860.1 664.6 L1863.1 665.0 L1866.1 665.4 L1869.1 665.8 L1872.1 666.2 L1875.1 666.6 L1878.1 666.9 L1881.1 667.3 L1884.1 667.6 L1887.1 667.9 L1890.2 668.2 L1893.2 668.5 L1896.2 668.8 L1899.2 669.1 L1902.2 669.4 L1905.2 669.7 L1908.2 669.9 L1911.2 670.2 L1914.2 670.4 L1917.2 670.7 L1920.2 670.9 L1923.2 671.1 L1926.2 671.3 L1929.3 671.6 L1932.3 671.8 L1935.3 671.9 L1938.3 672.1 L1941.3 672.3 L1944.3 672.5 L1947.3 672.7 L1950.3 672.8 L1953.3 673.0 L1956.3 673.1 L1959.3 673.3 L1962.3 673.4 L1965.3 673.5 L1968.4 673.7 L1971.4 673.8 L1974.4 673.9 L1977.4 674.0 L1980.4 674.1 L1983.4 674.2 L1986.4 674.3 L1989.4 674.4 L1992.4 674.5 L1995.4 674.6 L1998.4 674.7 L2001.4 674.7 L2004.4 674.8 L2007.5 674.9 L2010.5 675.0 L2013.5 675.0 L2016.5 675.1 L2019.5 675.2 L2022.5 675.2 L2025.5 675.3 L2028.5 675.3 L2031.5 675.4 L2034.5 675.4 L2037.5 675.5 L2040.5 675.5 L2043.5 675.6 L2046.5 675.6 L2049.6 675.7 L2052.6 675.7 L2055.6 675.8 L2058.6 675.8 L2061.6 675.9 L2064.6 675.9 L2067.6 675.9 L2070.6 676.0 L2073.6 676.0 L2076.6 676.1 L2079.6 676.1 L2082.6 676.2 L2085.6 676.2 L2088.7 676.3 L2091.7 676.3 L2094.7 676.4 L2097.7 676.4 L2100.7 676.5 L2103.7 676.5 L2106.7 676.6 L2112.0 676.8" stroke="#f00" stroke-width="8" stroke-linecap="round" clip-path="url(#clipR)"/>
<path d="M403.2 355.1 L406.2 357.7 L409.2 360.4 L412.2 363.1 L415.2 365.7 L418.2 368.4 L421.2 371.1 L424.2 373.7 L427.2 376.4 L430.2 379.0 L433.3 381.6 L436.3 384.2 L439.3 386.8 L442.3 389.4 L445.3 392.0 L448.3 394.5 L451.3 397.0 L454.3 399.5 L457.3 402.0 L460.3 404.4 L463.3 406.9 L466.3 409.3 L469.3 411.6 L472.3 413.9 L475.3 416.2 L478.3 418.5 L481.3 420.7 L484.3 422.9 L487.3 425.1 L490.3 427.2 L493.4 429.2 L496.4 431.3 L499.4 433.2 L502.4 435.2 L505.4 437.1 L508.4 438.9 L511.4 440.7 L514.4 442.4 L517.4 444.1 L520.4 445.8 L523.4 447.4 L526.4 448.9 L529.4 450.4 L532.4 451.8 L535.4 453.2 L538.4 454.5 L541.4 455.8 L544.4 457.0 L547.4 458.1 L550.5 459.2 L553.5 460.3 L556.5 461.3 L559.5 462.2 L562.5 463.1 L565.5 463.9 L568.5 464.7 L571.5 465.4 L574.5 466.1 L577.5 466.7 L580.5 467.3 L583.5 467.8 L586.5 468.2 L589.5 468.7 L592.5 469.1 L595.5 469.4 L598.5 469.7 L601.5 470.0 L604.5 470.2 L607.6 470.4 L610.6 470.6 L613.6 470.8 L616.6 470.9 L619.6 471.0 L622.6 471.1 L625.6 471.1 L628.6 471.2 L631.6 471.2 L634.6 471.2 L637.6 471.2 L640.6 471.2 L643.6 471.2 L646.6 471.2 L649.6 471.1 L652.6 471.1 L655.6 471.1 L658.6 471.1 L661.6 471.0 L664.6 471.0 L667.7 471.0 L670.7 471.0 L673.7 470.9 L676.7 470.9 L679.7 470.9 L682.7 470.9 L685.7 470.9 L688.7 470.8 L691.7 470.8 L694.7 470.8 L697.7 470.8 L700.7 470.8 L703.7 470.8 L706.7 470.7 L709.7 470.7 L712.7 470.7 L715.7 470.7 L718.7 470.7 L721.7 470.7 L724.8 470.6 L727.8 470.6 L730.8 470.6 L733.8 470.6 L736.8 470.6 L739.8 470.6 L742.8 470.5 L745.8 470.5 L748.8 470.5 L751.8 470.5 L754.8 470.5 L757.8 470.5 L760.8 470.4 L763.8 470.4 L766.8 470.4 L769.8 470.4 L772.8 470.4 L775.8 470.4 L778.8 470.3 L781.9 470.3 L784.9 470.3 L787.9 470.3 L790.9 470.3 L793.9 470.2 L796.9 470.2 L799.9 470.2 L802.9 470.2 L805.9 470.1 L808.9 470.1 L811.9 470.1 L814.9 470.1 L817.9 470.0 L820.9 470.0 L823.9 470.0 L826.9 470.0 L829.9 469.9 L832.9 469.9 L835.9 469.9 L838.9 469.8 L842.0 469.8 L845.0 469.8 L848.0 469.7 L851.0 469.7 L854.0 469.7 L857.0 469.6 L860.0 469.6 L863.0 469.6 L866.0 469.5 L869.0 469.5 L872.0 469.4 L875.0 469.4 L878.0 469.3 L881.0 469.3 L884.0 469.2 L887.0 469.2 L890.0 469.1 L893.0 469.1 L896.0 469.0 L899.1 469.0 L902.1 468.9 L905.1 468.9 L908.1 468.8 L911.1 468.7 L914.1 468.7 L917.1 468.6 L920.1 468.6 L923.1 468.5 L926.1 468.4 L929.1 468.4 L932.1 468.3 L935.1 468.2 L938.1 468.2 L941.1 468.1 L944.1 468.0 L947.1 467.9 L950.1 467.9 L953.1 467.8 L956.2 467.7 L959.2 467.6 L962.2 467.6 L965.2 467.5 L968.2 467.4 L971.2 467.3 L974.2 467.2 L977.2 467.2 L980.2 467.1 L983.2 467.0 L986.2 466.9 L989.2 466.8 L992.2 466.7 L995.2 466.6 L998.2 466.6 L1001.2 466.5 L1004.2 466.4 L1007.2 466.3 L1010.2 466.2 L1013.2 466.1 L1016.3 466.0 L1019.3 465.9 L1022.3 465.8 L1025.3 465.7 L1028.3 465.6 L1031.3 465.5 L1034.3 465.4 L1037.3 465.3 L1040.3 465.2 L1043.3 465.1 L1046.3 465.0 L1049.3 464.9 L1052.3 464.8 L1055.3 464.7 L1058.3 464.6 L1061.3 464.5 L1064.3 464.4 L1067.3 464.3 L1070.3 464.2 L1073.4 464.1 L1076.4 464.0 L1079.4 463.9 L1082.4 463.8 L1085.4 463.7 L1088.4 463.6 L1091.4 463.5 L1094.4 463.4 L1097.4 463.3 L1100.4 463.2 L1103.4 463.1 L1106.4 463.0 L1109.4 462.9 L1112.4 462.8 L1115.4 462.7 L1118.4 462.6 L1121.4 462.4 L1124.4 462.3 L1127.4 462.2 L1130.5 462.1 L1133.5 462.0 L1136.5 461.9 L1139.5 461.8 L1142.5 461.7 L1145.5 461.6 L1148.5 461.5 L1151.5 461.4 L1154.5 461.3 L1157.5 461.2 L1160.5 461.1 L1163.5 460.9 L1166.5 460.8 L1169.5 460.7 L1172.5 460.6 L1175.5 460.5 L1178.5 460.4 L1181.5 460.3 L1184.5 460.2 L1187.5 460.1 L1190.6 460.0 L1193.6 459.9 L1196.6 459.8 L1199.6 459.7 L1202.6 459.6 L1205.6 459.5 L1208.6 459.4 L1211.6 459.3 L1214.6 459.2 L1217.6 459.0 L1220.6 458.9 L1223.6 458.8 L1226.6 458.7 L1229.6 458.6 L1232.6 458.5 L1235.6 458.4 L1238.6 458.3 L1241.6 458.2 L1244.6 458.1 L1247.7 458.0 L1250.7 457.9 L1253.7 457.8 L1256.7 457.8 L1259.7 457.7 L1262.7 457.6 L1265.7 457.5 L1268.7 457.4 L1271.7 457.3 L1274.7 457.2 L1277.7 457.1 L1280.7 457.0 L1283.7 456.9 L1286.7 456.8 L1289.7 456.7 L1292.7 456.6 L1295.7 456.6 L1298.7 456.5 L1301.7 456.4 L1304.7 456.3 L1307.8 456.2 L1310.8 456.1 L1313.8 456.0 L1316.8 456.0 L1319.8 455.9 L1322.8 455.8 L1325.8 455.7 L1328.8 455.6 L1331.8 455.6 L1334.8 455.5 L1337.8 455.4 L1340.8 455.3 L1343.8 455.3 L1346.8 455.2 L1349.8 455.1 L1352.8 455.1 L1355.8 455.0 L1358.8 454.9 L1361.8 454.8 L1364.9 454.8 L1367.9 454.7 L1370.9 454.7 L1373.9 454.6 L1376.9 454.5 L1379.9 454.5 L1382.9 454.4 L1385.9 454.4 L1388.9 454.3 L1391.9 454.2 L1394.9 454.2 L1397.9 454.1 L1400.9 454.1 L1403.9 454.0 L1406.9 454.0 L1409.9 453.9 L1412.9 453.9 L1415.9 453.9 L1418.9 453.8 L1422.0 453.8 L1425.0 453.7 L1428.0 453.7 L1431.0 453.7 L1434.0 453.6 L1437.0 453.6 L1440.0 453.6 L1443.0 453.5 L1446.0 453.5 L1449.0 453.5 L1452.0 453.4 L1455.0 453.4 L1458.0 453.4 L1461.0 453.4 L1464.0 453.4 L1467.0 453.3 L1470.0 453.3 L1473.0 453.3 L1476.0 453.3 L1479.0 453.3 L1482.1 453.3 L1485.1 453.3 L1488.1 453.3 L1491.1 453.3 L1494.1 453.3 L1497.1 453.3 L1500.1 453.3 L1503.1 453.3 L1506.1 453.3 L1509.1 453.3 L1512.1 453.3 L1515.1 453.3 L1518.1 453.3 L1521.1 453.3 L1524.1 453.3 L1527.1 453.4 L1530.1 453.4 L1533.1 453.4 L1536.1 453.4 L1539.2 453.5 L1542.2 453.5 L1545.2 453.5 L1548.2 453.5 L1551.2 453.6 L1554.2 453.6 L1557.2 453.7 L1560.2 453.7 L1563.2 453.7 L1566.2 453.8 L1569.2 453.8 L1572.2 453.9 L1575.2 453.9 L1578.2 454.0 L1581.2 454.1 L1584.2 454.1 L1587.2 454.2 L1590.2 454.2 L1593.2 454.3 L1596.3 454.4 L1599.3 454.4 L1602.3 454.5 L1605.3 454.6 L1608.3 454.7 L1611.3 454.8 L1614.3 454.8 L1617.3 454.9 L1620.3 455.0 L1623.3 455.1 L1626.3 455.2 L1629.3 455.3 L1632.3 455.4 L1635.3 455.5 L1638.3 455.6 L1641.3 455.7 L1644.3 455.8 L1647.3 455.9 L1650.3 456.0 L1653.3 456.1 L1656.4 456.2 L1659.4 456.3 L1662.4 456.4 L1665.4 456.5 L1668.4 456.6 L1671.4 456.8 L1674.4 456.9 L1677.4 457.0 L1680.4 457.1 L1683.4 457.2 L1686.4 457.4 L1689.4 457.5 L1692.4 457.6 L1695.4 457.7 L1698.4 457.9 L1701.4 458.0 L1704.4 458.1 L1707.4 458.2 L1710.4 458.4 L1713.5 458.5 L1716.5 458.6 L1719.5 458.8 L1722.5 458.9 L1725.5 459.0 L1728.5 459.2 L1731.5 459.3 L1734.5 459.5 L1737.5 459.6 L1740.5 459.7 L1743.5 459.9 L1746.5 460.0 L1749.5 460.2 L1752.5 460.3 L1755.5 460.4 L1758.5 460.6 L1761.5 460.7 L1764.5 460.9 L1767.5 461.0 L1770.6 461.2 L1773.6 461.3 L1776.6 461.4 L1779.6 461.6 L1782.6 461.7 L1785.6 461.9 L1788.6 462.0 L1791.6 462.2 L1794.6 462.3 L1797.6 462.5 L1800.6 462.6 L1803.6 462.7 L1806.6 462.9 L1809.6 463.0 L1812.6 463.2 L1815.6 463.3 L1818.6 463.5 L1821.6 463.6 L1824.6 463.8 L1827.6 463.9 L1830.7 464.0 L1833.7 464.2 L1836.7 464.3 L1839.7 464.5 L1842.7 464.6 L1845.7 464.7 L1848.7 464.9 L1851.7 465.0 L1854.7 465.1 L1857.7 465.3 L1860.7 465.4 L1863.7 465.6 L1866.7 465.7 L1869.7 465.8 L1872.7 466.0 L1875.7 466.1 L1878.7 466.2 L1881.7 466.3 L1884.7 466.5 L1887.8 466.6 L1890.8 466.7 L1893.8 466.8 L1896.8 467.0 L1899.8 467.1 L1902.8 467.2 L1905.8 467.3 L1908.8 467.4 L1911.8 467.6 L1914.8 467.7 L1917.8 467.8 L1920.8 467.9 L1923.8 468.0 L1926.8 468.1 L1929.8 468.2 L1932.8 468.3 L1935.8 468.4 L1938.8 468.5 L1941.8 468.6 L1944.9 468.7 L1947.9 468.8 L1950.9 468.9 L1953.9 469.0 L1956.9 469.1 L1959.9 469.2 L1962.9 469.3 L1965.9 469.4 L1968.9 469.4 L1971.9 469.5 L1974.9 469.6 L1977.9 469.7 L1980.9 469.7 L1983.9 469.8 L1986.9 469.9 L1989.9 470.0 L1992.9 470.0 L1995.9 470.1 L1998.9 470.1 L2001.9 470.2 L2005.0 470.3 L2008.0 470.3 L2011.0 470.4 L2014.0 470.4 L2017.0 470.4 L2020.0 470.5 L2023.0 470.5 L2026.0 470.6 L2029.0 470.6 L2032.0 470.6" stroke="#000" stroke-width="8" stroke-linecap="round"/>
<g fill="#f00" stroke="none"><circle cx="404.0" cy="570.3" r="12"/><circle cx="478.0" cy="982.8" r="12"/><circle cx="551.8" cy="1021.4" r="12"/><circle cx="626.2" cy="1023.7" r="12"/><circle cx="700.2" cy="1031.8" r="12"/><circle cx="774.2" cy="1036.3" r="12"/><circle cx="847.8" cy="1031.8" r="12"/><circle cx="921.9" cy="1041.0" r="12"/><circle cx="995.9" cy="1031.8" r="12"/><circle cx="1069.9" cy="1031.8" r="12"/><circle cx="1143.6" cy="1044.9" r="12"/><circle cx="1217.9" cy="1036.3" r="12"/><circle cx="1291.8" cy="1056.9" r="12"/><circle cx="1439.9" cy="1055.2" r="12"/><circle cx="1587.6" cy="1036.3" r="12"/><circle cx="1735.7" cy="1034.6" r="12"/><circle cx="1883.9" cy="1055.3" r="12"/><circle cx="2031.8" cy="1048.9" r="12"/></g>
<g fill="#000" stroke="none"><circle cx="404.0" cy="609.8" r="12"/><circle cx="552.1" cy="706.5" r="12"/><circle cx="626.1" cy="777.0" r="12"/><circle cx="700.1" cy="755.8" r="12"/><circle cx="774.1" cy="753.9" r="12"/><circle cx="848.1" cy="758.5" r="12"/><circle cx="922.1" cy="766.9" r="12"/><circle cx="996.1" cy="777.4" r="12"/><circle cx="1144.1" cy="790.5" r="12"/><circle cx="1292.1" cy="804.4" r="12"/><circle cx="1365.7" cy="800.8" r="12"/><circle cx="1440.1" cy="773.1" r="12"/><circle cx="1514.1" cy="747.8" r="12"/><circle cx="1587.5" cy="775.3" r="12"/><circle cx="1662.1" cy="767.4" r="12"/><circle cx="1736.1" cy="778.7" r="12"/><circle cx="1884.0" cy="809.5" r="12"/><circle cx="2032.1" cy="852.5" r="12"/></g>
</g>
</svg>
</body></html>
